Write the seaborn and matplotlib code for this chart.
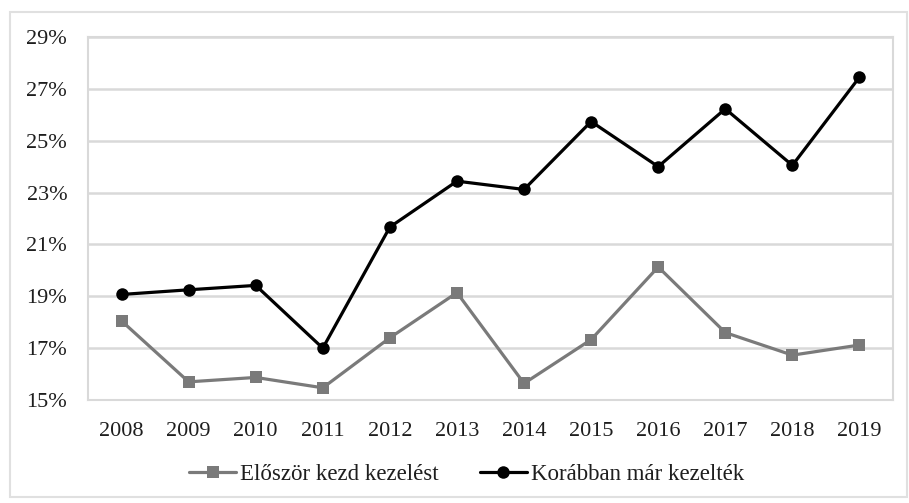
import matplotlib
matplotlib.use("Agg")
import matplotlib.pyplot as plt
import seaborn as sns
import pandas as pd
from matplotlib.patches import Rectangle

years = [2008, 2009, 2010, 2011, 2012, 2013, 2014, 2015, 2016, 2017, 2018, 2019]
elso = [18.05, 15.70, 15.87, 15.47, 17.40, 19.14, 15.64, 17.33, 20.13, 17.60, 16.73, 17.12]
korabban = [19.07, 19.25, 19.42, 17.00, 21.67, 23.44, 23.12, 25.74, 24.00, 26.23, 24.05, 27.45]
series_names = ["Először kezd kezelést", "Korábban már kezelték"]
y_ticks = [15, 17, 19, 21, 23, 25, 27, 29]

df = pd.concat([
    pd.DataFrame({"year": years, "value": elso, "series": series_names[0]}),
    pd.DataFrame({"year": years, "value": korabban, "series": series_names[1]}),
])

sns.set_theme(style="white")
plt.rcParams["font.family"] = ["Liberation Serif", "DejaVu Serif"]

fig = plt.figure(figsize=(9.09, 5.03), dpi=100)
ax = fig.add_axes([88 / 909, 1 - 400 / 503, (893 - 88) / 909, (400 - 37) / 503])

palette = {series_names[0]: "#7a7a7a", series_names[1]: "#000000"}
sns.lineplot(data=df, x="year", y="value", hue="series", style="series",
             markers={series_names[0]: "s", series_names[1]: "o"},
             dashes=False, palette=palette, ax=ax, linewidth=2.3,
             markersize=9, markeredgewidth=0, legend=True)

ax.set_xlim(2007.5, 2019.5)
ax.set_ylim(15, 29)
ax.set_xticks(years)
ax.set_xticklabels([str(y) for y in years])
ax.set_yticks(y_ticks)
ax.set_yticklabels([f"{t}%" for t in y_ticks])
ax.set_xlabel("")
ax.set_ylabel("")
ax.grid(axis="y", color="#d9d9d9", linewidth=1.8)
ax.set_axisbelow(True)
for s in ax.spines.values():
    s.set_color("#d9d9d9")
    s.set_linewidth(1.5)
ax.tick_params(axis="both", labelsize=16, colors="#1e1e1e", length=0)
ax.tick_params(axis="x", pad=16)
ax.tick_params(axis="y", pad=15)

handles, labels = ax.get_legend_handles_labels()
ax.get_legend().remove()
fig.legend(handles, labels, loc="center", bbox_to_anchor=(466.5 / 909, 1 - 474 / 503),
           ncol=2, frameon=False, fontsize=16.5, handlelength=2.05,
           handletextpad=0.17, columnspacing=1.8, labelcolor="#1e1e1e",
           borderpad=0, borderaxespad=0)

fig.patches.append(Rectangle((10 / 909, 1 - 497 / 503), 897 / 909, 485 / 503,
                             transform=fig.transFigure, fill=False,
                             edgecolor="#e0e0e0", linewidth=1.5))

fig.savefig("out.png", dpi=100)
